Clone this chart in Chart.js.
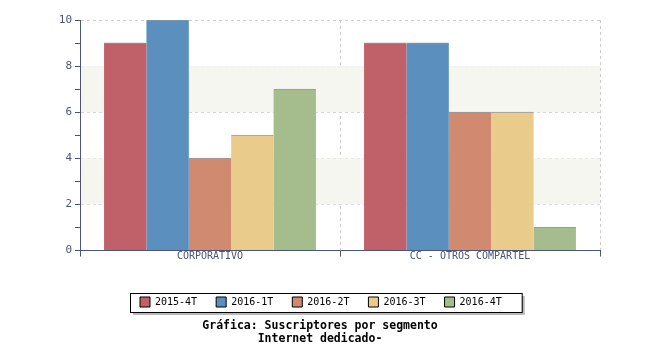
<!DOCTYPE html>
<html lang="es">
  <head>
    <meta charset="UTF-8" />
    <title>Suscriptores por segmento</title>
    <style>
      html, body { margin: 0; padding: 0; background: #fff; }
      #wrap { width: 650px; height: 350px; }
    </style>
  </head>
  <body>
    <div id="wrap"><canvas id="myChart" width="650" height="350"></canvas></div>
  </body>
  <script src="https://cdn.jsdelivr.net/npm/chart.js"></script>
  <script>
    // data
    var categories = ["CORPORATIVO", "CC - OTROS COMPARTEL"];
    var periods = ["2015-4T", "2016-1T", "2016-2T", "2016-3T", "2016-4T"];
    var s2015_4T = [9, 9];
    var s2016_1T = [10, 9];
    var s2016_2T = [4, 6];
    var s2016_3T = [5, 6];
    var s2016_4T = [7, 1];
    var yTicks = [0, 2, 4, 6, 8, 10];

    var colors = ["#c0616a", "#5b8fbe", "#d08a70", "#e9cb8c", "#a5bd8c"];
    var series = [s2015_4T, s2016_1T, s2016_2T, s2016_3T, s2016_4T];
    var axisColor = "#4a5577";
    var mono = "'DejaVu Sans Mono', monospace";

    var datasets = periods.map(function (p, i) {
      return {
        label: p,
        data: series[i],
        backgroundColor: colors[i],
        borderColor: "#9a9a9a",
        borderWidth: { top: 1, right: 0, left: 0, bottom: 0 },
        borderSkipped: "bottom",
        inflateAmount: 0.5,
        categoryPercentage: 0.815,
        barPercentage: 1,
      };
    });

    // light bands between 2-4 and 6-8
    var bands = {
      id: "bands",
      beforeDatasetsDraw: function (chart) {
        var ctx = chart.ctx, y = chart.scales.y, a = chart.chartArea;
        ctx.save();
        ctx.fillStyle = "#f6f6f1";
        [[2, 4], [6, 8]].forEach(function (b) {
          var t = y.getPixelForValue(b[1]), bt = y.getPixelForValue(b[0]);
          ctx.fillRect(a.left + 1, t, a.right - a.left - 1, bt - t);
        });
        ctx.restore();
      },
    };

    // move legend and title to where the original puts them
    var placeBoxes = {
      id: "placeBoxes",
      afterLayout: function (chart) {
        var lg = chart.legend, pad = lg.options.labels.padding;
        var firstLeft = (lg.left + pad + lg.right - lg.lineWidths[0]) / 2;
        var dx = 140 - firstLeft, dy = 297 - (lg.top + pad);
        lg.left += dx; lg.right += dx; lg.top += dy; lg.bottom += dy;
        var tt = chart.titleBlock;
        tt.left += 20; tt.right += 20;
      },
    };

    // framed legend with a shadow
    var legendFrame = {
      id: "legendFrame",
      beforeDraw: function (chart) {
        var hb = chart.legend.legendHitBoxes;
        if (!hb || !hb.length) return;
        var first = hb[0], last = hb[hb.length - 1];
        var x = first.left - 10, y = first.top - 4;
        var w = last.left + last.width - x + 20, h = first.height + 9;
        var ctx = chart.ctx;
        ctx.save();
        ctx.fillStyle = "#b8b8b8";
        ctx.fillRect(x + 3, y + 3, w, h);
        ctx.fillStyle = "#fff";
        ctx.fillRect(x, y, w, h);
        ctx.strokeStyle = "#000";
        ctx.lineWidth = 1;
        ctx.strokeRect(x + 0.5, y + 0.5, w, h);
        ctx.restore();
      },
    };

    var config = {
      type: "bar",
      data: { labels: categories, datasets: datasets },
      options: {
        responsive: false,
        animation: false,
        layout: { padding: { left: 0, right: 50, top: 20, bottom: 4 } },
        plugins: {
          tooltip: { enabled: false },
          legend: {
            position: "bottom",
            labels: {
              boxWidth: 10,
              boxHeight: 10,
              padding: 19,
              color: "#000",
              font: { family: mono, size: 10 },
              generateLabels: function (chart) {
                return chart.data.datasets.map(function (d, i) {
                  return {
                    text: d.label,
                    fillStyle: d.backgroundColor,
                    strokeStyle: "#000",
                    lineWidth: 1,
                    datasetIndex: i,
                  };
                });
              },
            },
          },
          title: {
            display: true,
            position: "bottom",
            text: ["Gráfica: Suscriptores por segmento", "Internet dedicado-"],
            color: "#000",
            font: { family: mono, size: 11.5, weight: "bold", lineHeight: 1.15 },
            padding: { top: 6, bottom: 0 },
          },
        },
        scales: {
          x: {
            offset: true,
            afterFit: function (s) { s.height = 24; },
            grid: {
              offset: true,
              color: "#cccccc",
              tickColor: axisColor,
              tickLength: 6,
            },
            border: { color: axisColor, width: 1, dash: [3, 3] },
            ticks: { color: axisColor, padding: -6, font: { family: mono, size: 10 } },
          },
          y: {
            min: 0,
            max: 10,
            afterFit: function (s) { s.width = 80; },
            afterBuildTicks: function (s) {
              s.ticks = [];
              for (var v = 0; v <= 10; v++) s.ticks.push({ value: v });
            },
            grid: {
              color: function (c) {
                var v = c.tick && c.tick.value;
                return yTicks.indexOf(v) > 0 ? "#cccccc" : "rgba(0,0,0,0)";
              },
              tickColor: axisColor,
              tickLength: 5,
            },
            border: { color: axisColor, width: 1, dash: [3, 3] },
            ticks: {
              color: axisColor,
              padding: 3,
              font: { family: mono, size: 11 },
              callback: function (v) { return yTicks.indexOf(v) >= 0 ? String(v) : ""; },
            },
          },
        },
      },
      plugins: [bands, placeBoxes, legendFrame],
    };

    var myChart = new Chart(document.getElementById("myChart"), config);
  </script>
</html>
